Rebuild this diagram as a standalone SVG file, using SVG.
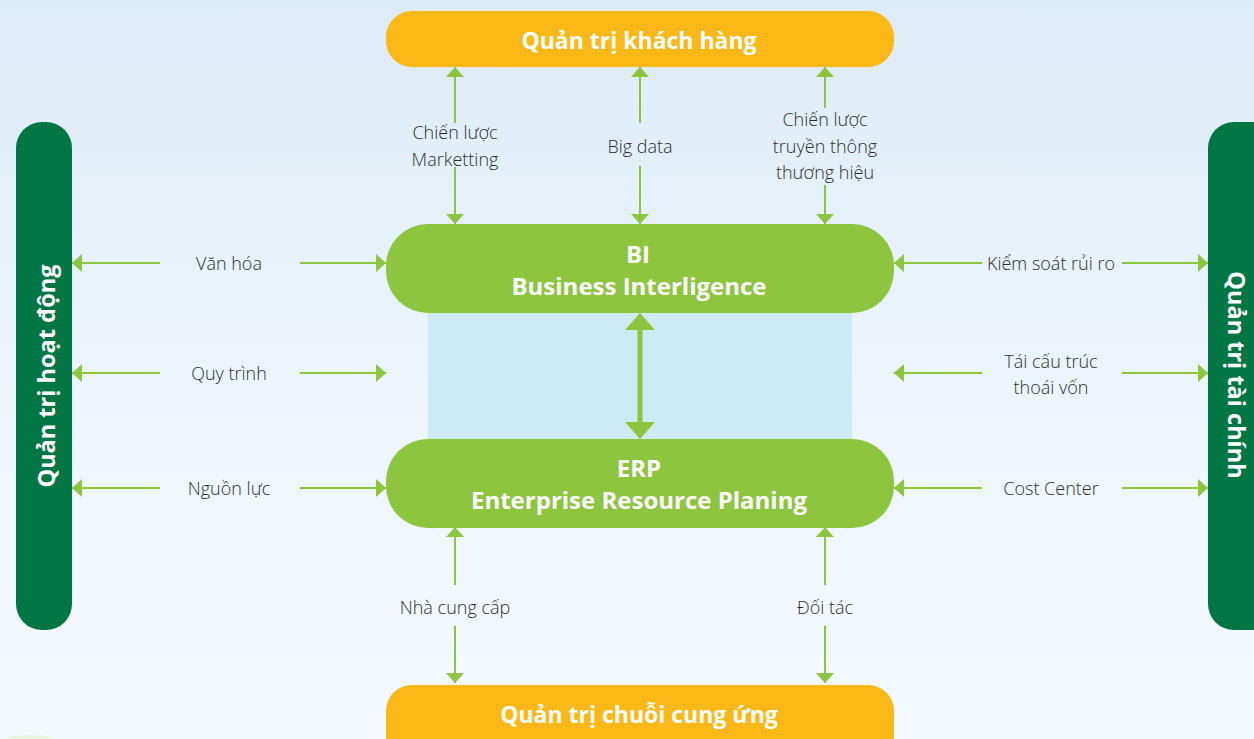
<svg xmlns="http://www.w3.org/2000/svg" width="1254" height="739" viewBox="0 0 1254 739">
  <defs>
    <linearGradient id="bg" x1="0" y1="0" x2="0" y2="1">
      <stop offset="0" stop-color="#ddebf6"/>
      <stop offset="0.55" stop-color="#eef6fc"/>
      <stop offset="1" stop-color="#f4f9fe"/>
    </linearGradient>
    <marker id="head" viewBox="0 0 10 18" refX="10" refY="9" markerWidth="10" markerHeight="18" markerUnits="userSpaceOnUse" orient="auto-start-reverse">
      <path d="M0,0 L10,9 L0,18 Z" fill="#8cc63f"/>
    </marker>
    <style>
      .yellow { fill: #fbb817; }
      .lime { fill: #8cc63f; }
      .forest { fill: #007645; }
      .title { font-family: "Open Sans", "Noto Sans", sans-serif; font-weight: 700; fill: #ffffff; text-anchor: middle; }
      .label { font-family: "Open Sans", "Noto Sans", sans-serif; font-weight: 300; font-size: 18px; fill: #2e2e2e; text-anchor: middle; }
      .link { stroke: #8cc63f; stroke-width: 2; fill: none; }
      .arrow { marker-end: url(#head); }
    </style>
  </defs>

  <!-- backdrop -->
  <rect x="0" y="0" width="1254" height="739" fill="url(#bg)"/>
  <ellipse cx="30" cy="741" rx="26" ry="6" fill="#e6f3d6" opacity="0.8"/>

  <!-- band linking the two systems -->
  <rect id="link-band" x="428" y="312" width="424" height="128" fill="#cdeaf5"/>

  <!-- connectors -->
  <g id="connectors">
    <!-- customer management (top) -->
    <line class="link arrow" x1="455" y1="123" x2="455" y2="67"/>
    <line class="link arrow" x1="455" y1="167" x2="455" y2="224"/>
    <line class="link arrow" x1="640" y1="123" x2="640" y2="67"/>
    <line class="link arrow" x1="640" y1="166" x2="640" y2="224"/>
    <line class="link arrow" x1="825" y1="108" x2="825" y2="67"/>
    <line class="link arrow" x1="825" y1="185" x2="825" y2="224"/>

    <!-- operations (left) -->
    <line class="link arrow" x1="160" y1="263" x2="72" y2="263"/>
    <line class="link arrow" x1="300" y1="263" x2="386" y2="263"/>
    <line class="link arrow" x1="160" y1="373" x2="72" y2="373"/>
    <line class="link arrow" x1="300" y1="373" x2="386" y2="373"/>
    <line class="link arrow" x1="160" y1="488" x2="72" y2="488"/>
    <line class="link arrow" x1="300" y1="488" x2="386" y2="488"/>

    <!-- finance (right) -->
    <line class="link arrow" x1="982" y1="263" x2="894" y2="263"/>
    <line class="link arrow" x1="1122" y1="263" x2="1208" y2="263"/>
    <line class="link arrow" x1="982" y1="373" x2="894" y2="373"/>
    <line class="link arrow" x1="1122" y1="373" x2="1208" y2="373"/>
    <line class="link arrow" x1="982" y1="488" x2="894" y2="488"/>
    <line class="link arrow" x1="1122" y1="488" x2="1208" y2="488"/>

    <!-- supply chain (bottom) -->
    <line class="link arrow" x1="455" y1="585" x2="455" y2="527"/>
    <line class="link arrow" x1="455" y1="626" x2="455" y2="683"/>
    <line class="link arrow" x1="825" y1="585" x2="825" y2="527"/>
    <line class="link arrow" x1="825" y1="626" x2="825" y2="683"/>

    <!-- BI <-> ERP -->
    <g id="bi-erp">
      <rect x="637.5" y="329" width="5" height="94" class="lime"/>
      <path d="M640,313 L655,330 L625,330 Z" class="lime"/>
      <path d="M640,439 L655,422 L625,422 Z" class="lime"/>
    </g>
  </g>

  <!-- connector labels -->
  <g id="labels">
    <text class="label" x="455" y="139">Chiến lược</text>
    <text class="label" x="455" y="166">Marketting</text>
    <text class="label" x="640" y="153">Big data</text>
    <text class="label" x="825" y="126">Chiến lược</text>
    <text class="label" x="825" y="153">truyền thông</text>
    <text class="label" x="825" y="179">thương hiệu</text>

    <text class="label" x="229" y="270">Văn hóa</text>
    <text class="label" x="229" y="380">Quy trình</text>
    <text class="label" x="229" y="495">Nguồn lực</text>

    <text class="label" x="1051" y="270">Kiểm soát rủi ro</text>
    <text class="label" x="1051" y="368">Tái cấu trúc</text>
    <text class="label" x="1051" y="394">thoái vốn</text>
    <text class="label" x="1051" y="495">Cost Center</text>

    <text class="label" x="455" y="614">Nhà cung cấp</text>
    <text class="label" x="825" y="614">Đối tác</text>
  </g>

  <!-- nodes -->
  <g id="customer-mgmt">
    <rect x="386" y="11" width="508" height="56" rx="26" class="yellow"/>
    <text class="title" x="639" y="49" font-size="23">Quản trị khách hàng</text>
  </g>

  <g id="bi">
    <rect x="386" y="224" width="508" height="89" rx="42" class="lime"/>
    <text class="title" x="638" y="263" font-size="24">BI</text>
    <text class="title" x="639" y="295" font-size="24">Business Interligence</text>
  </g>

  <g id="erp">
    <rect x="386" y="439" width="508" height="89" rx="42" class="lime"/>
    <text class="title" x="639" y="477" font-size="24">ERP</text>
    <text class="title" x="639" y="509" font-size="24">Enterprise Resource Planing</text>
  </g>

  <g id="supply-chain">
    <rect x="386" y="685" width="508" height="80" rx="26" class="yellow"/>
    <text class="title" x="639" y="723" font-size="23">Quản trị chuỗi cung ứng</text>
  </g>

  <g id="operations">
    <rect x="16" y="122" width="56" height="508" rx="26" class="forest"/>
    <text class="title" font-size="23.5" transform="translate(46 376) rotate(-90)" dy="8.5">Quản trị hoạt động</text>
  </g>

  <g id="finance">
    <rect x="1208" y="122" width="80" height="508" rx="26" class="forest"/>
    <text class="title" font-size="23.5" transform="translate(1236 375) rotate(90)" dy="8.5">Quản trị tài chính</text>
  </g>
</svg>
